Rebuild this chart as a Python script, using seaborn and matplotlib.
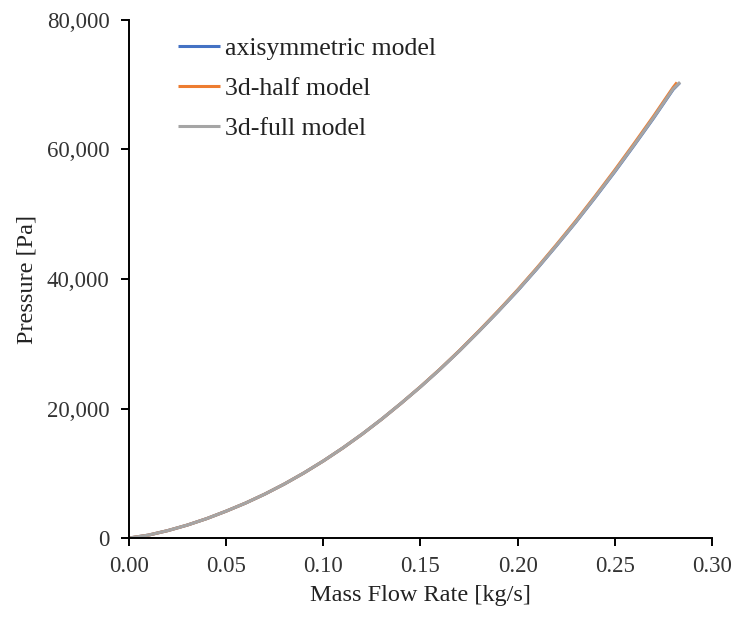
import matplotlib
matplotlib.use("Agg")
import matplotlib.pyplot as plt
import seaborn as sns
import pandas as pd
from matplotlib.ticker import FuncFormatter

# Data
flow_common = [0.00, 0.01, 0.02, 0.03, 0.04, 0.05, 0.06, 0.07, 0.08, 0.09, 0.10,
               0.11, 0.12, 0.13, 0.14, 0.15, 0.16, 0.17, 0.18, 0.19, 0.20,
               0.21, 0.22, 0.23, 0.24, 0.25, 0.26, 0.27, 0.28]

flow_axi = flow_common + [0.2834]
p_axi = [0, 450, 1150, 2000, 3000, 4150, 5400, 6800, 8350, 10050, 11900,
         13900, 16050, 18350, 20800, 23350, 26050, 28900, 31900, 35000, 38200,
         41600, 45150, 48800, 52630, 56570, 60670, 64870, 69270, 70300]

flow_half = flow_common + [0.2820]
p_half = [0, 450, 1150, 2000, 3000, 4150, 5400, 6800, 8350, 10050, 11900,
          13900, 16050, 18350, 20800, 23370, 26080, 28940, 31960, 35080, 38330,
          41750, 45320, 49000, 52850, 56830, 60950, 65170, 69580, 70350]

flow_full = flow_common + [0.2836]
p_full = [0, 450, 1150, 2000, 3000, 4150, 5400, 6800, 8350, 10050, 11900,
          13900, 16050, 18350, 20800, 23350, 26050, 28900, 31900, 35000, 38250,
          41650, 45200, 48850, 52700, 56650, 60750, 64950, 69350, 70400]

series_names = ["axisymmetric model", "3d-half model", "3d-full model"]
colors = ["#4472C4", "#ED7D31", "#A5A5A5"]
x_ticks = [0.00, 0.05, 0.10, 0.15, 0.20, 0.25, 0.30]
y_ticks = [0, 20000, 40000, 60000, 80000]

df = pd.concat([
    pd.DataFrame({"flow": flow_axi, "pressure": p_axi, "model": series_names[0]}),
    pd.DataFrame({"flow": flow_half, "pressure": p_half, "model": series_names[1]}),
    pd.DataFrame({"flow": flow_full, "pressure": p_full, "model": series_names[2]}),
], ignore_index=True)

sns.set_style("ticks")
plt.rcParams["font.family"] = ["Liberation Serif", "DejaVu Serif"]

fig = plt.figure(figsize=(7.35, 6.17), dpi=100)
ax = fig.add_axes([0.1755, 0.128, 0.7932, 0.8396])

sns.lineplot(data=df, x="flow", y="pressure", hue="model", hue_order=series_names,
             palette=colors, linewidth=2.2, sort=False, estimator=None, ax=ax)
for ln in ax.lines:
    ln.set_solid_capstyle("butt")
    ln.set_solid_joinstyle("round")

ax.set_xlim(0, 0.30)
ax.set_ylim(0, 80000)
ax.set_xticks(x_ticks)
ax.set_yticks(y_ticks)
ax.xaxis.set_major_formatter(FuncFormatter(lambda v, p: f"{v:.2f}"))
ax.yaxis.set_major_formatter(FuncFormatter(lambda v, p: f"{v:,.0f}"))

ax.tick_params(axis="both", direction="out", length=6, width=1.4, color="black",
               labelsize=16.5, labelcolor="#333333")
ax.tick_params(axis="y", pad=8)
ax.tick_params(axis="x", pad=7)
for side in ["top", "right"]:
    ax.spines[side].set_visible(False)
for side in ["left", "bottom"]:
    ax.spines[side].set_linewidth(1.4)
    ax.spines[side].set_color("black")

ax.set_xlabel("Mass Flow Rate [kg/s]", fontsize=17.5, color="#222222", labelpad=6)
ax.set_ylabel("Pressure [Pa]", fontsize=17.5, color="#222222", labelpad=7)

leg = ax.legend(loc="upper left", bbox_to_anchor=(0.084, 0.968), frameon=False,
                fontsize=18.5, handlelength=1.65, handletextpad=0.2, labelspacing=0.67,
                borderaxespad=0, borderpad=0)
for t in leg.get_texts():
    t.set_color("#222222")
for h in leg.get_lines():
    h.set_linewidth(2.2)

fig.savefig("out.png", dpi=100, facecolor="white")
